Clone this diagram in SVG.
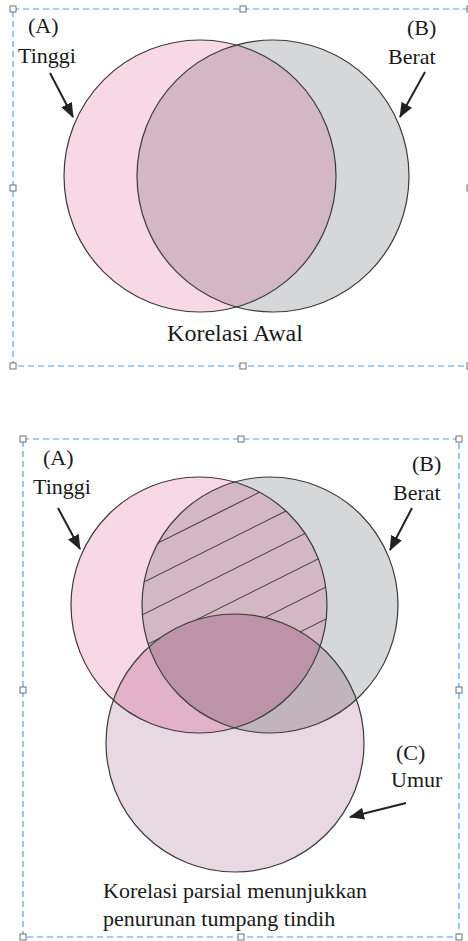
<svg xmlns="http://www.w3.org/2000/svg" width="468" height="941" viewBox="0 0 468 941">
<style>
.frame{fill:none;stroke:#4a9ff5;stroke-width:1.2;stroke-dasharray:6 4}
.handle{fill:#fff;stroke:#707070;stroke-width:1}
.edge{fill:none;stroke:#3a3a3a;stroke-width:1.2}
.pa{fill:#f9d8e6}
.pb{fill:#d6d7d9}
.pab{fill:#d3b7c3}
.pc{fill:#e8d8e1}
.pac{fill:#e2b3c8}
.pbc{fill:#c1b4ba}
.pabc{fill:#bd94a7}
.hatch line{stroke:#3a3a3a;stroke-width:1.1}
.lbl{font-family:"Liberation Serif","Times New Roman",serif;font-size:22px;fill:#1a1a1a}
.arrow{stroke:#222;stroke-width:2;fill:none;marker-end:url(#ah)}
</style>
<defs>
<marker id="ah" markerUnits="userSpaceOnUse" markerWidth="15" markerHeight="12" refX="14" refY="6" orient="auto">
<path d="M0,0 L15,6 L0,12 Z" fill="#222"/>
</marker>
<clipPath id="cA1"><circle cx="200" cy="176" r="136"/></clipPath>
<clipPath id="cA2"><circle cx="199" cy="605" r="128"/></clipPath>
<clipPath id="cB2"><circle cx="270" cy="605" r="128"/></clipPath>
<mask id="mC" maskUnits="userSpaceOnUse" x="0" y="400" width="468" height="541">
<rect x="0" y="400" width="468" height="541" fill="#fff"/>
<circle cx="235" cy="743" r="129" fill="#000"/>
</mask>
</defs>
<rect width="468" height="941" fill="#fff"/>

<g id="frame-top">
<rect class="frame" x="13" y="9" width="457" height="357"/>
<rect class="handle" x="10" y="6" width="6" height="6"/>
<rect class="handle" x="240" y="6" width="6" height="6"/>
<rect class="handle" x="467" y="6" width="6" height="6"/>
<rect class="handle" x="10" y="185" width="6" height="6"/>
<rect class="handle" x="467" y="185" width="6" height="6"/>
<rect class="handle" x="10" y="363" width="6" height="6"/>
<rect class="handle" x="240" y="363" width="6" height="6"/>
<rect class="handle" x="467" y="363" width="6" height="6"/>
</g>

<g id="venn-top">
<g id="top-A"><circle class="pa" cx="200" cy="176" r="136"/></g>
<g id="top-B"><circle class="pb" cx="273" cy="176" r="136"/></g>
<g id="top-AB"><circle class="pab" cx="273" cy="176" r="136" clip-path="url(#cA1)"/></g>
<circle class="edge" cx="200" cy="176" r="136"/>
<circle class="edge" cx="273" cy="176" r="136"/>
</g>

<g id="labels-top">
<text class="lbl" x="28" y="33">(A)</text>
<text class="lbl" x="18" y="63">Tinggi</text>
<text class="lbl" x="407" y="35">(B)</text>
<text class="lbl" x="388" y="64">Berat</text>
<text class="lbl" x="235" y="341" text-anchor="middle" style="font-size:24px">Korelasi Awal</text>
</g>

<g id="frame-bottom">
<rect class="frame" x="23" y="439" width="436" height="498"/>
<rect class="handle" x="20" y="436" width="6" height="6"/>
<rect class="handle" x="238" y="436" width="6" height="6"/>
<rect class="handle" x="456" y="436" width="6" height="6"/>
<rect class="handle" x="20" y="687" width="6" height="6"/>
<rect class="handle" x="456" y="687" width="6" height="6"/>
<rect class="handle" x="20" y="934" width="6" height="6"/>
<rect class="handle" x="238" y="934" width="6" height="6"/>
<rect class="handle" x="456" y="934" width="6" height="6"/>
</g>

<g id="venn-bottom">
<g id="bot-A"><circle class="pa" cx="199" cy="605" r="128"/></g>
<g id="bot-B"><circle class="pb" cx="270" cy="605" r="128"/></g>
<g id="bot-C"><circle class="pc" cx="235" cy="743" r="129"/></g>
<circle class="pab" cx="270" cy="605" r="128" clip-path="url(#cA2)"/>
<circle class="pac" cx="235" cy="743" r="129" clip-path="url(#cA2)"/>
<circle class="pbc" cx="235" cy="743" r="129" clip-path="url(#cB2)"/>
<g clip-path="url(#cA2)"><circle class="pabc" cx="235" cy="743" r="129" clip-path="url(#cB2)"/></g>
<g class="hatch" clip-path="url(#cA2)"><g clip-path="url(#cB2)"><g mask="url(#mC)">
<line x1="100" y1="572" x2="380" y2="432"/>
<line x1="100" y1="604" x2="380" y2="464"/>
<line x1="100" y1="636" x2="380" y2="496"/>
<line x1="100" y1="668" x2="380" y2="528"/>
<line x1="100" y1="700" x2="380" y2="560"/>
<line x1="100" y1="732" x2="380" y2="592"/>
<line x1="100" y1="764" x2="380" y2="624"/>
<line x1="100" y1="796" x2="380" y2="656"/>
</g></g></g>
<circle class="edge" cx="199" cy="605" r="128"/>
<circle class="edge" cx="270" cy="605" r="128"/>
<circle class="edge" cx="235" cy="743" r="129"/>
</g>

<g id="labels-bottom">
<text class="lbl" x="43" y="465">(A)</text>
<text class="lbl" x="33" y="494">Tinggi</text>
<text class="lbl" x="412" y="471">(B)</text>
<text class="lbl" x="393" y="500">Berat</text>
<text class="lbl" x="396" y="760">(C)</text>
<text class="lbl" x="391" y="787">Umur</text>
<text class="lbl" x="103" y="898">Korelasi parsial menunjukkan</text>
<text class="lbl" x="103" y="926">penurunan tumpang tindih</text>
</g>

<g id="connectors">
<line class="arrow" x1="50" y1="73" x2="73" y2="117"/>
<line class="arrow" x1="425" y1="72" x2="400" y2="117"/>
<line class="arrow" x1="58" y1="508" x2="80" y2="549"/>
<line class="arrow" x1="412" y1="508" x2="390" y2="550"/>
<line class="arrow" x1="406" y1="803" x2="350" y2="817"/>
</g>
</svg>
